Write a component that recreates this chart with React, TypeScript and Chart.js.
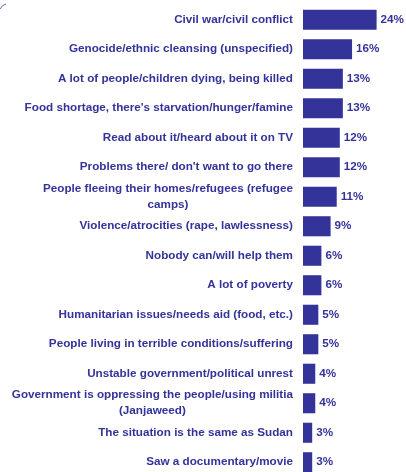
import React, { useEffect, useRef } from "react";
import { Chart, registerables } from "chart.js";

Chart.register(...registerables);

const categories: string[] = [
  "Civil war/civil conflict",
  "Genocide/ethnic cleansing (unspecified)",
  "A lot of people/children dying, being killed",
  "Food shortage, there's starvation/hunger/famine",
  "Read about it/heard about it on TV",
  "Problems there/ don't want to go there",
  "People fleeing their homes/refugees (refugee\ncamps)",
  "Violence/atrocities (rape, lawlessness)",
  "Nobody can/will help them",
  "A lot of poverty",
  "Humanitarian issues/needs aid (food, etc.)",
  "People living in terrible conditions/suffering",
  "Unstable government/political unrest",
  "Government is oppressing the people/using militia\n(Janjaweed)",
  "The situation is the same as Sudan",
  "Saw a documentary/movie",
];

const values: number[] = [24, 16, 13, 13, 12, 12, 11, 9, 6, 6, 5, 5, 4, 4, 3, 3];
const valueLabels: string[] = values.map((v) => v + "%");

const COLOR = "#333399";
const FONT = 'bold 11.7px "Liberation Sans", Arial, sans-serif';

const labelPlugin = {
  id: "customLabels",
  afterDatasetsDraw(chart: any) {
    const ctx = chart.ctx;
    const yScale = chart.scales.y;
    const area = chart.chartArea;
    const meta = chart.getDatasetMeta(0);
    ctx.save();
    ctx.font = FONT;
    ctx.fillStyle = COLOR;
    ctx.textBaseline = "middle";
    const lineH = 16;
    categories.forEach((cat, i) => {
      const y = yScale.getPixelForValue(i);
      const lines = cat.split("\n");
      const widths = lines.map((l) => ctx.measureText(l).width);
      const maxW = Math.max(...widths);
      const right = area.left - 10;
      const cx = right - maxW / 2;
      ctx.textAlign = "center";
      const startY = y - ((lines.length - 1) * lineH) / 2;
      lines.forEach((l, j) => {
        ctx.fillText(l, cx, startY + j * lineH);
      });
      const bar = meta.data[i];
      ctx.textAlign = "left";
      ctx.fillText(valueLabels[i], bar.x + 4, y);
    });
    // small decorative arc at top-left
    ctx.strokeStyle = "#6666aa";
    ctx.lineWidth = 1;
    ctx.beginPath();
    ctx.moveTo(0, 9);
    ctx.quadraticCurveTo(2, 5, 6, 4);
    ctx.stroke();
    ctx.restore();
  },
};

export default function App() {
  const ref = useRef<HTMLCanvasElement | null>(null);
  useEffect(() => {
    if (!ref.current) return;
    const chart = new Chart(ref.current, {
      type: "bar",
      data: {
        labels: categories,
        datasets: [
          {
            data: values,
            backgroundColor: COLOR,
            borderWidth: 0,
            barPercentage: 0.68,
            categoryPercentage: 1,
          },
        ],
      },
      options: {
        indexAxis: "y",
        responsive: false,
        animation: false,
        devicePixelRatio: 1,
        layout: { padding: { left: 303, right: 11, top: 5, bottom: 0 } },
        plugins: {
          legend: { display: false },
          tooltip: { enabled: false },
        },
        scales: {
          x: { display: false, min: 0, max: 30 },
          y: { display: false },
        },
      },
      plugins: [labelPlugin],
    });
    return () => chart.destroy();
  }, []);
  return (
    <div style={{ position: "fixed", left: 0, top: 0, width: 406, height: 477, background: "#fff" }}>
      <canvas ref={ref} width={406} height={477} style={{ display: "block" }} />
    </div>
  );
}
